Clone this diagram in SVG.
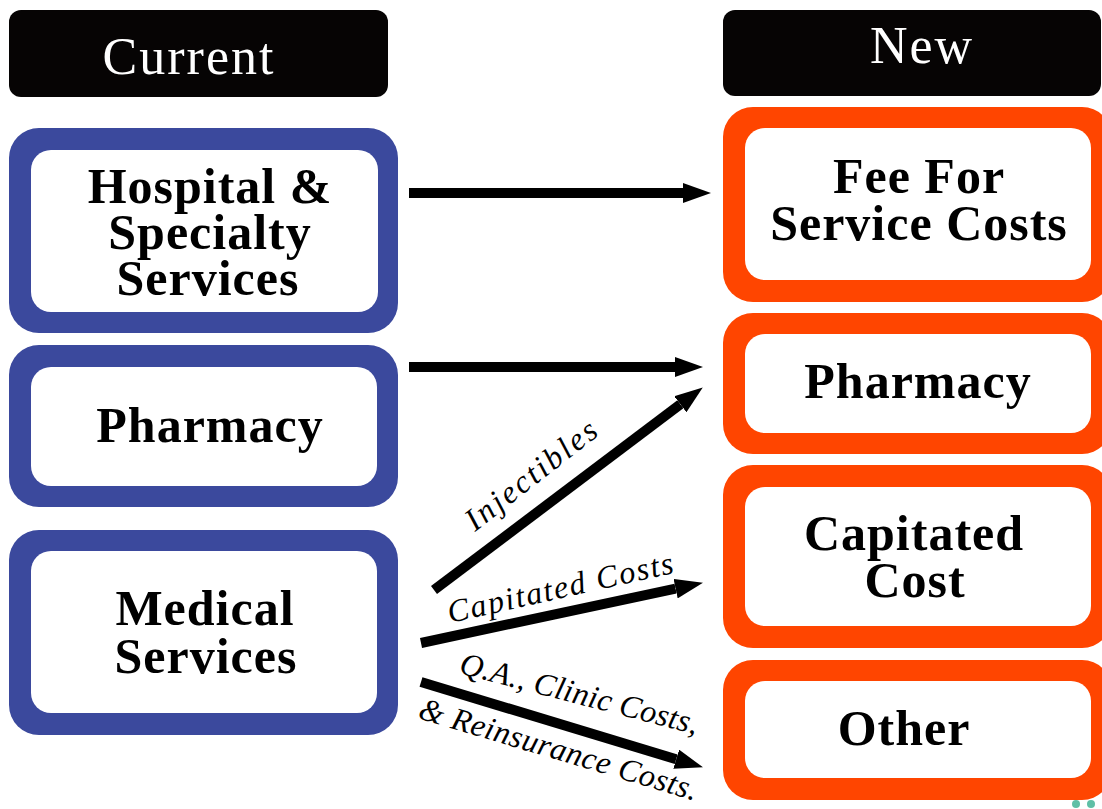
<svg xmlns="http://www.w3.org/2000/svg" width="1102" height="809" viewBox="0 0 1102 809">
  <style>
    .hdr { fill: #060404; }
    .hdr-text { font-family: "Liberation Serif", "Times New Roman", serif; font-size: 52px; fill: #ffffff; text-anchor: middle; letter-spacing: 2px; }
    .cur-outer { fill: #3b499d; }
    .new-outer { fill: #ff4500; }
    .inner { fill: #ffffff; }
    .label { font-family: "Liberation Serif", "Times New Roman", serif; font-weight: bold; font-size: 50px; fill: #000000; text-anchor: middle; letter-spacing: 1px; }
    .flow { stroke: #000000; stroke-width: 10; fill: none; stroke-linecap: butt; }
    .flow-label { font-family: "Liberation Serif", "Times New Roman", serif; font-style: italic; font-size: 32px; fill: #000000; }
  </style>
  <defs>
    <marker id="head" viewBox="0 0 28 20" refX="0" refY="10" markerWidth="28" markerHeight="20" markerUnits="userSpaceOnUse" orient="auto">
      <path d="M0,0 L28,10 L0,20 Z" fill="#000000"/>
    </marker>
  </defs>

  <rect width="1102" height="809" fill="#ffffff"/>

  <!-- column headers -->
  <g id="header-current">
    <rect class="hdr" x="9" y="10" width="379" height="87" rx="12"/>
    <text class="hdr-text" x="189" y="74">Current</text>
  </g>
  <g id="header-new">
    <rect class="hdr" x="723" y="10" width="378" height="86" rx="12"/>
    <text class="hdr-text" x="922" y="63">New</text>
  </g>

  <!-- current cost categories -->
  <g id="cur-hospital">
    <rect class="cur-outer" x="9" y="128" width="389" height="205" rx="30"/>
    <rect class="inner" x="31" y="150" width="347" height="162" rx="20"/>
    <text class="label" x="210" y="203">Hospital &amp;</text>
    <text class="label" x="210" y="249">Specialty</text>
    <text class="label" x="208" y="295">Services</text>
  </g>
  <g id="cur-pharmacy">
    <rect class="cur-outer" x="9" y="345" width="389" height="162" rx="30"/>
    <rect class="inner" x="31" y="367" width="346" height="119" rx="20"/>
    <text class="label" x="210" y="442">Pharmacy</text>
  </g>
  <g id="cur-medical">
    <rect class="cur-outer" x="9" y="530" width="389" height="205" rx="30"/>
    <rect class="inner" x="31" y="551" width="346" height="162" rx="20"/>
    <text class="label" x="205" y="625">Medical</text>
    <text class="label" x="206" y="673">Services</text>
  </g>

  <!-- new cost categories -->
  <g id="new-ffs">
    <rect class="new-outer" x="723" y="107" width="389" height="195" rx="30"/>
    <rect class="inner" x="745" y="128" width="346" height="152" rx="20"/>
    <text class="label" x="919" y="193">Fee For</text>
    <text class="label" x="919" y="240">Service Costs</text>
  </g>
  <g id="new-pharmacy">
    <rect class="new-outer" x="723" y="313" width="389" height="141" rx="30"/>
    <rect class="inner" x="745" y="334" width="346" height="99" rx="20"/>
    <text class="label" x="918" y="398">Pharmacy</text>
  </g>
  <g id="new-capitated">
    <rect class="new-outer" x="723" y="465" width="389" height="183" rx="30"/>
    <rect class="inner" x="745" y="487" width="346" height="139" rx="20"/>
    <text class="label" x="914" y="550">Capitated</text>
    <text class="label" x="915" y="597">Cost</text>
  </g>
  <g id="new-other">
    <rect class="new-outer" x="723" y="660" width="389" height="140" rx="30"/>
    <rect class="inner" x="745" y="681" width="346" height="97" rx="20"/>
    <text class="label" x="904" y="745">Other</text>
  </g>

  <!-- connectors -->
  <g id="connectors">
    <line class="flow" x1="409" y1="193" x2="683" y2="193" marker-end="url(#head)"/>
    <line class="flow" x1="409" y1="367" x2="675" y2="367" marker-end="url(#head)"/>
    <line class="flow" x1="434" y1="590" x2="680.4" y2="404.3" marker-end="url(#head)"/>
    <line class="flow" x1="421" y1="643" x2="675.6" y2="588.6" marker-end="url(#head)"/>
    <line class="flow" x1="421" y1="682" x2="676.2" y2="759.2" marker-end="url(#head)"/>

    <text class="flow-label" transform="translate(475,532) rotate(-38)" letter-spacing="2.5">Injectibles</text>
    <text class="flow-label" transform="translate(450,623) rotate(-12.6)" letter-spacing="1.8">Capitated Costs</text>
    <text class="flow-label" transform="translate(458,673) rotate(14.5)" letter-spacing="0.3">Q.A., Clinic Costs,</text>
    <text class="flow-label" transform="translate(417,718) rotate(16.6)" letter-spacing="0.5">&amp; Reinsurance Costs.</text>
  </g>

  <!-- corner dots -->
  <circle cx="1076" cy="804" r="4" fill="#5fbfa6"/>
  <circle cx="1091" cy="804" r="4" fill="#5fbfa6"/>
</svg>
